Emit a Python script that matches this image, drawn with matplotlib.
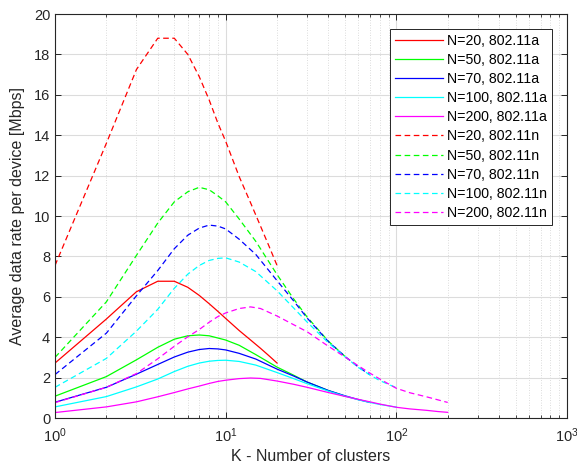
import matplotlib
matplotlib.use("Agg")
import matplotlib.pyplot as plt
from matplotlib.ticker import LogLocator, NullFormatter, MultipleLocator

plt.rcParams["font.family"] = ["Liberation Sans", "DejaVu Sans"]

# cluster counts sampled for each network size
K_20 = [1, 2, 3, 4, 5, 6, 7, 8, 9, 10, 12, 14, 16, 18, 20]
K_50 = [1, 2, 3, 4, 5, 6, 7, 8, 9, 10, 12, 15, 20, 25, 30, 40, 50]
K_70 = [1, 2, 3, 4, 5, 6, 7, 8, 9, 10, 12, 15, 20, 25, 30, 40, 50, 60, 70]
K_100 = [1, 2, 3, 4, 5, 6, 7, 8, 9, 10, 12, 15, 20, 25, 30, 40, 50, 60, 70, 80, 100]
K_200 = [1, 2, 3, 4, 5, 6, 7, 8, 9, 10, 12, 14, 16, 20, 25, 30, 40, 50, 60, 70, 80,
         100, 120, 150, 175, 200]

# average per-device rate [Mbps], 802.11a
RATE_A_20 = [2.72, 4.90, 6.25, 6.77, 6.77, 6.47, 6.07, 5.66, 5.28, 4.93, 4.33, 3.86, 3.45, 3.07, 2.72]
RATE_A_50 = [1.08, 2.05, 2.88, 3.50, 3.90, 4.07, 4.11, 4.07, 3.96, 3.86, 3.60, 3.14, 2.52, 2.12,
             1.78, 1.36, 1.08]
RATE_A_70 = [0.78, 1.52, 2.17, 2.65, 3.02, 3.26, 3.39, 3.44, 3.42, 3.37, 3.20, 2.92, 2.42, 2.08,
             1.78, 1.36, 1.10, 0.91, 0.77]
RATE_A_100 = [0.55, 1.06, 1.54, 1.93, 2.30, 2.56, 2.72, 2.81, 2.85, 2.86, 2.80, 2.62, 2.25, 1.95,
              1.70, 1.33, 1.08, 0.90, 0.77, 0.67, 0.54]
RATE_A_200 = [0.27, 0.55, 0.80, 1.05, 1.26, 1.44, 1.58, 1.71, 1.81, 1.87, 1.95, 1.98, 1.96, 1.83,
              1.67, 1.52, 1.26, 1.07, 0.92, 0.80, 0.69, 0.53, 0.45, 0.38, 0.32, 0.28]

# average per-device rate [Mbps], 802.11n
RATE_N_20 = [7.55, 13.60, 17.25, 18.80, 18.80, 18.00, 16.90, 15.75, 14.60, 13.70, 11.95, 10.65,
             9.50, 8.48, 7.55]
RATE_N_50 = [3.00, 5.75, 8.05, 9.65, 10.70, 11.20, 11.42, 11.30, 11.00, 10.70, 9.85, 8.75, 7.10,
             5.90, 5.00, 3.80, 3.05]
RATE_N_70 = [2.15, 4.20, 6.05, 7.30, 8.38, 9.05, 9.40, 9.55, 9.50, 9.36, 8.85, 8.10, 6.80, 5.80,
             4.95, 3.78, 3.05, 2.52, 2.14]
RATE_N_100 = [1.52, 2.95, 4.30, 5.38, 6.42, 7.12, 7.55, 7.80, 7.90, 7.93, 7.72, 7.25, 6.30, 5.45,
              4.75, 3.72, 3.03, 2.50, 2.13, 1.85, 1.50]
RATE_N_200 = [0.76, 1.52, 2.20, 2.93, 3.55, 4.02, 4.38, 4.74, 5.02, 5.20, 5.42, 5.50, 5.42, 5.05,
              4.62, 4.27, 3.55, 3.02, 2.58, 2.22, 1.93, 1.47, 1.25, 1.05, 0.90, 0.77]

NODES = [20, 50, 70, 100, 200]
COLORS = ["#ff0000", "#00ff00", "#0000ff", "#00ffff", "#ff00ff"]

series_a = [(K_20, RATE_A_20), (K_50, RATE_A_50), (K_70, RATE_A_70), (K_100, RATE_A_100), (K_200, RATE_A_200)]
series_n = [(K_20, RATE_N_20), (K_50, RATE_N_50), (K_70, RATE_N_70), (K_100, RATE_N_100), (K_200, RATE_N_200)]

fig = plt.figure(figsize=(5.77, 4.73), dpi=100)
ax = fig.add_axes([55 / 577, 1 - 418 / 473, 512 / 577, 404 / 473])

for n, color, (k, rate) in zip(NODES, COLORS, series_a):
    ax.plot(k, rate, color=color, lw=0.9, label=f"N={n}, 802.11a")
for n, color, (k, rate) in zip(NODES, COLORS, series_n):
    ax.plot(k, rate, color=color, lw=0.9, dashes=(4.5, 2.8), label=f"N={n}, 802.11n")

ax.set_xscale("log")
ax.set_xlim(1, 1000)
ax.set_ylim(0, 20)
ax.yaxis.set_major_locator(MultipleLocator(2))
ax.xaxis.set_major_locator(LogLocator(base=10, numticks=10))
ax.xaxis.set_minor_locator(LogLocator(base=10, subs=range(2, 10), numticks=20))
ax.xaxis.set_minor_formatter(NullFormatter())

ax.grid(which="major", color="#dcdcdc", lw=0.8, ls="-")
ax.grid(which="minor", axis="x", color="#d0d0d0", lw=0.6, ls=(0, (1, 2)))
ax.set_axisbelow(True)

dark = "#262626"
for spine in ax.spines.values():
    spine.set_color(dark)
    spine.set_linewidth(0.8)
ax.tick_params(which="both", direction="in", top=True, right=True, colors=dark, labelsize=10.5)
ax.tick_params(which="major", length=4.5, width=0.7)
ax.tick_params(which="minor", length=2.5, width=0.6)
ax.tick_params(axis="x", pad=6)

ax.set_xlabel("K - Number of clusters", fontsize=11.5, color=dark, labelpad=3)
ax.set_ylabel("Average data rate per device [Mbps]", fontsize=11.5, color=dark, labelpad=6)

leg = ax.legend(loc="upper right", bbox_to_anchor=(497 / 512, 389 / 404), borderaxespad=0,
                fontsize=10.2, frameon=True, fancybox=False, framealpha=1, edgecolor=dark,
                handlelength=3.4, handletextpad=0.3, labelspacing=0.36, borderpad=0.35)
leg.get_frame().set_linewidth(0.7)

fig.savefig("out.png", dpi=100)
